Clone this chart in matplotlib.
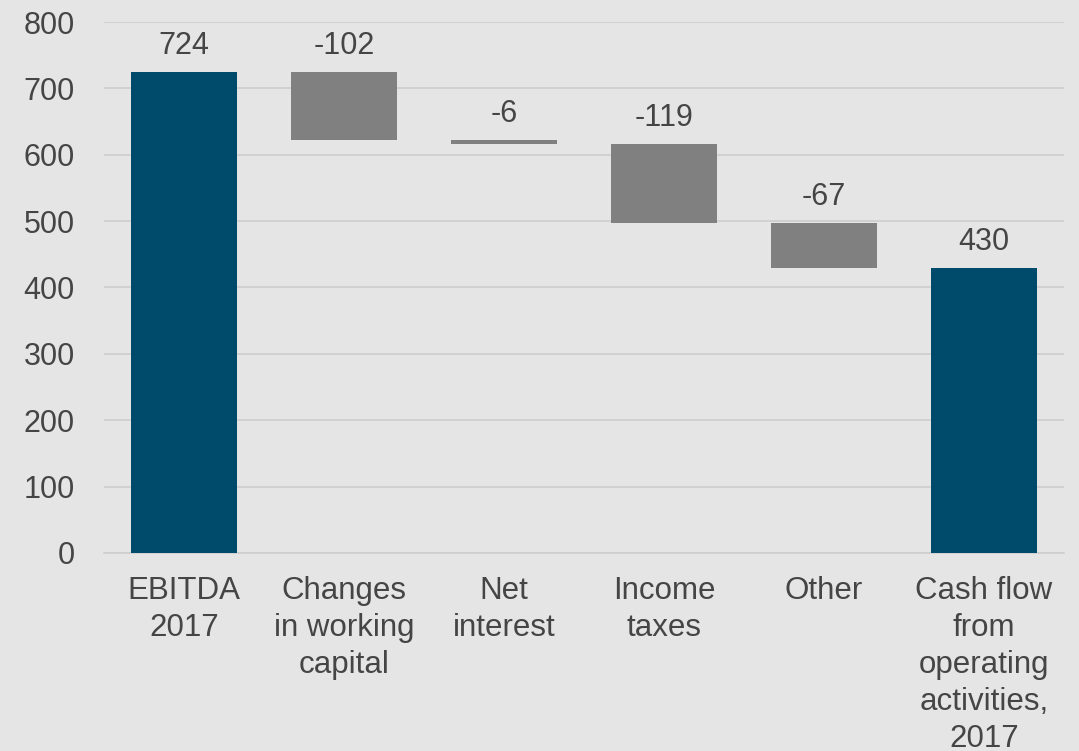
import numpy as np
import matplotlib
matplotlib.use("Agg")
import matplotlib.pyplot as plt

categories = ["EBITDA\n2017", "Changes\nin working\ncapital", "Net\ninterest",
              "Income\ntaxes", "Other", "Cash flow\nfrom\noperating\nactivities,\n2017"]
changes = [724, -102, -6, -119, -67, 430]
is_total = [True, False, False, False, False, True]
yticks = [0, 100, 200, 300, 400, 500, 600, 700, 800]

BG = "#e5e5e5"
NAVY = "#004b6b"
GREY = "#808080"
TEXT = "#454545"
GRID = "#cecece"

plt.rcParams["font.family"] = ["Liberation Sans", "DejaVu Sans"]

fig = plt.figure(figsize=(10.79, 7.51), dpi=100, facecolor=BG)
ax = fig.add_axes([0.0964, 0.2637, 0.8896, 0.707], facecolor=BG)

x = np.arange(len(categories))
running = 0
bottoms, heights, colors = [], [], []
for val, tot in zip(changes, is_total):
    if tot:
        bottoms.append(0)
        heights.append(val)
        colors.append(NAVY)
        running = val
    else:
        bottoms.append(running + val)
        heights.append(-val)
        colors.append(GREY)
        running += val

ax.bar(x, heights, bottom=bottoms, width=0.665, color=colors, zorder=3)

for xi, b, h, val in zip(x, bottoms, heights, changes):
    ax.annotate(f"{val}", (xi, b + h), xytext=(0, 13), textcoords="offset points",
                ha="center", va="baseline", fontsize=22, color=TEXT)

ax.set_xlim(-0.5, len(categories) - 0.5)
ax.set_ylim(0, 800)
ax.set_yticks(yticks)
ax.set_xticks(x)
ax.set_xticklabels(categories, fontsize=22.5, color=TEXT, linespacing=1.31)
ax.tick_params(axis="y", length=0, pad=21, labelsize=22, labelcolor=TEXT)
ax.tick_params(axis="x", length=0, pad=16.5)
ax.grid(axis="y", color=GRID, linewidth=1.2, zorder=0)
for s in ["top", "right", "left"]:
    ax.spines[s].set_visible(False)
ax.spines["bottom"].set_color(GRID)
ax.spines["bottom"].set_linewidth(1.2)

fig.savefig("out.png", dpi=100, facecolor=BG)
